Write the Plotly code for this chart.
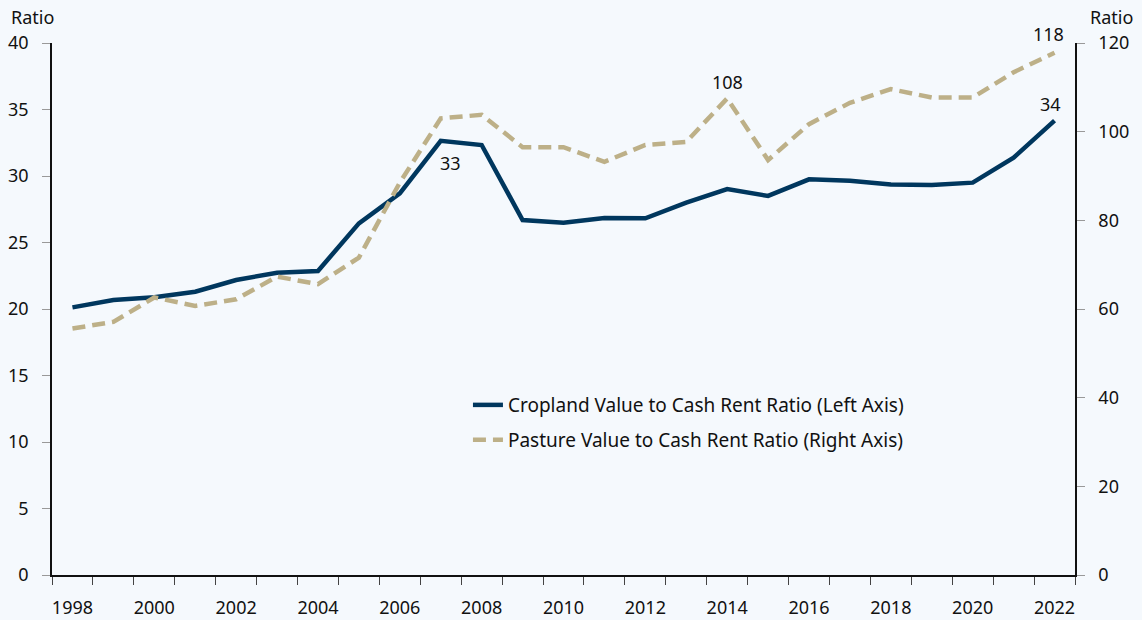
import plotly.graph_objects as go

years = list(range(1998, 2023))
cropland = [20.12, 20.68, 20.88, 21.3, 22.18, 22.73, 22.86, 26.44, 28.7, 32.65,
            32.33, 26.69, 26.49, 26.84, 26.82, 28.0, 29.02, 28.5, 29.75, 29.65,
            29.37, 29.32, 29.5, 31.38, 34.16]
pasture = [55.6, 57.1, 62.6, 60.7, 62.2, 67.3, 65.6, 71.6, 88.5, 103.0,
           103.8, 96.5, 96.5, 93.2, 97.0, 97.7, 107.5, 93.6, 101.7, 106.5,
           109.6, 107.7, 107.7, 113.4, 117.8]
xtick_years = list(range(1998, 2023, 2))
left_ticks = [0, 5, 10, 15, 20, 25, 30, 35, 40]
right_ticks = [0, 20, 40, 60, 80, 100, 120]

NAVY = "#00375E"
TAN = "#BDB088"
BG = "#F5F9FD"
FONT = "Noto Sans"
TXT = "#111111"

fig = go.Figure()
fig.add_trace(go.Scatter(x=years, y=cropland, mode="lines",
                         name="Cropland Value to Cash Rent Ratio (Left Axis)",
                         line=dict(color=NAVY, width=4.5), yaxis="y", legend="legend"))
fig.add_trace(go.Scatter(x=years, y=pasture, mode="lines",
                         name="Pasture Value to Cash Rent Ratio (Right Axis)",
                         line=dict(color=TAN, width=4.5, dash="13px,7px"), yaxis="y2", legend="legend2"))

annots = [
    dict(x=2007, y=cropland[years.index(2007)], yref="y", text=str(round(cropland[years.index(2007)])), xshift=10, yshift=-22),
    dict(x=2014, y=pasture[years.index(2014)], yref="y2", text=str(round(pasture[years.index(2014)])), xshift=0, yshift=16),
    dict(x=2022, y=pasture[-1], yref="y2", text=str(round(pasture[-1])), xshift=-6, yshift=19),
    dict(x=2022, y=cropland[-1], yref="y", text=str(round(cropland[-1])), xshift=-4, yshift=17),
]
for a in annots:
    fig.add_annotation(xref="x", showarrow=False, xanchor="center", yanchor="middle",
                       font=dict(size=18, color=TXT, family=FONT), **a)

fig.add_annotation(xref="paper", yref="paper", x=0, y=1, xshift=-20, yshift=26, text="Ratio",
                   xanchor="center", yanchor="middle",
                   showarrow=False, font=dict(size=18, color=TXT, family=FONT))
fig.add_annotation(xref="paper", yref="paper", x=1, y=1, xshift=36, yshift=26, text="Ratio",
                   xanchor="center", yanchor="middle",
                   showarrow=False, font=dict(size=18, color=TXT, family=FONT))

legend_common = dict(xanchor="left", yanchor="middle", bgcolor="rgba(0,0,0,0)",
                     font=dict(size=19, family=FONT, color=TXT))

fig.update_layout(
    width=1142, height=620,
    margin=dict(l=52, r=67, t=43, b=45, autoexpand=False),
    paper_bgcolor=BG, plot_bgcolor=BG,
    font=dict(family=FONT, size=18, color=TXT),
    showlegend=True,
    legend=dict(x=0.4066, y=0.3195, **legend_common),
    legend2=dict(x=0.4066, y=0.2538, **legend_common),
    xaxis=dict(range=[1997.5, 2022.5], tickvals=xtick_years, ticktext=[str(y) for y in xtick_years],
               ticks="outside", ticklen=16, tickcolor="rgba(0,0,0,0)", automargin=False,
               showline=True, linecolor=TXT, linewidth=1.5, showgrid=False, zeroline=False,
               minor=dict(tickvals=[y - 0.5 for y in years] + [2022.5], ticks="outside", ticklen=8,
                          tickcolor="#444", tickwidth=1, showgrid=False)),
    yaxis=dict(range=[0, 40], tickvals=left_ticks, ticks="outside", ticklen=8, tickcolor="#999",
               showline=True, linecolor=TXT, linewidth=1.5, showgrid=False, zeroline=False,
               ticklabelstandoff=10, automargin=False),
    yaxis2=dict(range=[0, 120], tickvals=right_ticks, overlaying="y", side="right",
                ticks="outside", ticklen=8, tickcolor="#999", automargin=False,
                showline=True, linecolor=TXT, linewidth=1.5, showgrid=False, zeroline=False,
                ticklabelstandoff=10),
)

fig.write_html("out.html", config={"displayModeBar": False},
               post_script="document.body.style.margin='0';document.body.style.background='#F5F9FD';")
